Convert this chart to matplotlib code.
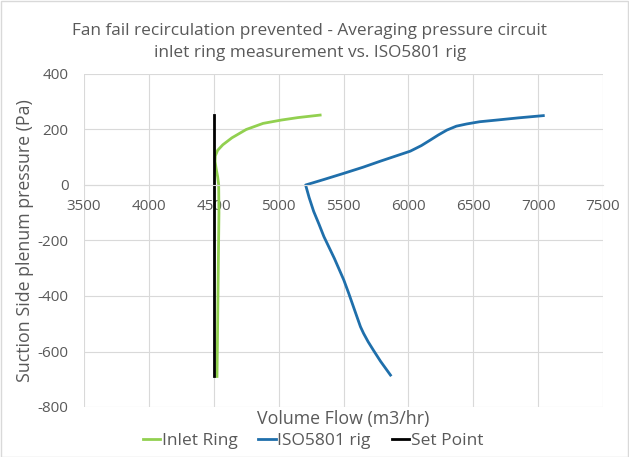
import numpy as np
import matplotlib
matplotlib.use("Agg")
import matplotlib.pyplot as plt

# data (x = volume flow m3/hr, y = pressure Pa)
inlet_flow = [4525, 4530, 4535, 4540, 4538, 4530, 4518, 4510, 4512, 4530,
              4570, 4640, 4750, 4880, 5020, 5150, 5320]
inlet_pres = [-690, -500, -300, -100, 0, 30, 60, 85, 105, 125,
              145, 170, 200, 222, 234, 243, 252]

iso_flow = [5862, 5785, 5730, 5690, 5655, 5631, 5600, 5567, 5540, 5502,
            5430, 5349, 5310, 5270, 5235, 5208, 5350, 5502, 5650, 5785,
            5900, 6015, 6100, 6169, 6230, 6297, 6370, 6450, 6550, 6681,
            6850, 7040]
iso_pres = [-685, -635, -595, -565, -535, -511, -470, -426, -390, -342,
            -265, -186, -140, -95, -45, 0, 20, 42, 64, 86,
            104, 122, 142, 162, 180, 198, 212, 220, 228, 234,
            242, 250]

set_flow = [4500, 4500]
set_pres = [-690, 252]

TEXT = "#595959"
plt.rcParams.update({
    "font.family": ["Open Sans", "DejaVu Sans"],
    "axes.unicode_minus": False,
    "text.color": TEXT,
    "axes.labelcolor": TEXT,
    "xtick.color": TEXT,
    "ytick.color": TEXT,
})

fig = plt.figure(figsize=(6.29, 4.57), dpi=100)
ax = fig.add_axes([84 / 629, 1 - 407 / 457, (603 - 84) / 629, (407 - 74) / 457])

ax.plot(inlet_flow, inlet_pres, color="#92D050", lw=2.0, label="Inlet Ring")
ax.plot(iso_flow, iso_pres, color="#1F6FAB", lw=2.0, label="ISO5801 rig")
ax.plot(set_flow, set_pres, color="black", lw=2.0, label="Set Point")

ax.set_xlim(3500, 7500)
ax.set_ylim(-800, 400)
ax.set_xticks(np.arange(3500, 7501, 500))
ax.set_yticks(np.arange(-800, 401, 200))
ax.grid(True, color="#D9D9D9", linewidth=0.8)
ax.set_axisbelow(True)

for s in ["top", "right", "left"]:
    ax.spines[s].set_visible(False)
ax.spines["bottom"].set_position(("data", 0))
ax.spines["bottom"].set_color("#D9D9D9")
ax.tick_params(axis="both", length=0, labelsize=11)
ax.tick_params(axis="x", pad=10)
ax.tick_params(axis="y", pad=11)

ax.set_ylabel("Suction Side plenum pressure (Pa)", fontsize=12.8)
ax.yaxis.set_label_coords(-0.096, 0.5)
fig.text(343 / 629, 1 - 419 / 457, "Volume Flow (m3/hr)",
         ha="center", va="center", fontsize=12.8)
fig.text(310 / 629, 1 - 42 / 457,
         "Fan fail recirculation prevented - Averaging pressure circuit\n"
         "inlet ring measurement vs. ISO5801 rig",
         ha="center", va="center", fontsize=12.4, linespacing=1.45)

fig.legend(loc="center", bbox_to_anchor=(313 / 629, 1 - 441 / 457), ncol=3,
           frameon=False, fontsize=12.5, handlelength=1.0, handletextpad=0.1,
           columnspacing=1.2)

fig.patches.append(plt.Rectangle((0.001, 0.001), 0.997, 0.997, transform=fig.transFigure,
                                 fill=False, edgecolor="#D9D9D9", linewidth=1))

fig.savefig("out.png", dpi=100)
